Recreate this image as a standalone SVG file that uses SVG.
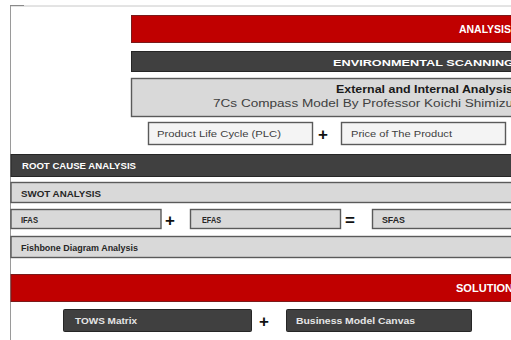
<svg xmlns="http://www.w3.org/2000/svg" width="511" height="340" viewBox="0 0 511 340">
  <style>
    .red { fill: #c00000; stroke: #7a1a1a; stroke-width: 1; }
    .dark { fill: #404040; stroke: #262626; stroke-width: 1; }
    .light { fill: #d9d9d9; stroke: #5a5a5a; stroke-width: 1.4; }
    .box { fill: #f4f4f4; stroke: #5a5a5a; stroke-width: 1.4; }
    .hd { font-family: "Liberation Sans", Arial, sans-serif; font-weight: bold; fill: #ffffff; }
    .lbl { font-family: "Liberation Sans", Arial, sans-serif; font-weight: bold; fill: #262626; font-size: 9px; }
    .reg { font-family: "Liberation Sans", Arial, sans-serif; fill: #404040; }
    .btn { font-family: "Liberation Sans", Arial, sans-serif; font-weight: bold; fill: #e6e6e6; font-size: 9px; }
    .op { font-family: "Liberation Sans", Arial, sans-serif; font-weight: bold; fill: #111111; font-size: 17px; }
  </style>

  <rect width="511" height="340" fill="#ffffff"/>

  <!-- page frame -->
  <g id="frame">
    <line x1="10" y1="6" x2="511" y2="6" stroke="#c8c8c8" stroke-width="1"/>
    <line x1="10" y1="5.5" x2="24" y2="5.5" stroke="#8a8a8a" stroke-width="1"/>
    <line x1="10.5" y1="6" x2="10.5" y2="340" stroke="#9a9a9a" stroke-width="1"/>
  </g>

  <g id="analysis">
    <rect class="red" x="131.5" y="15.5" width="385" height="27"/>
    <text class="hd" x="459" y="33" font-size="10.5" textLength="52" lengthAdjust="spacingAndGlyphs">ANALYSIS</text>
  </g>

  <g id="environmental-scanning">
    <rect class="dark" x="131.5" y="51.5" width="385" height="20"/>
    <text class="hd" x="333" y="65.5" font-size="9" textLength="181" lengthAdjust="spacingAndGlyphs">ENVIRONMENTAL SCANNING</text>
  </g>

  <g id="external-internal">
    <rect class="light" x="131.5" y="78.5" width="385" height="38"/>
    <text class="hd" x="336" y="93" font-size="11" style="fill:#1a1a1a" textLength="177" lengthAdjust="spacingAndGlyphs">External and Internal Analysis</text>
    <text class="reg" x="213" y="107" font-size="10" textLength="300" lengthAdjust="spacingAndGlyphs">7Cs Compass Model By Professor Koichi Shimizu</text>
  </g>

  <g id="plc">
    <rect class="box" x="148.5" y="122.5" width="164" height="22"/>
    <text class="reg" x="157" y="137" font-size="9.5" textLength="124" lengthAdjust="spacingAndGlyphs">Product Life Cycle (PLC)</text>
  </g>

  <g id="price">
    <rect class="box" x="341.5" y="122.5" width="164" height="22"/>
    <text class="reg" x="351" y="137" font-size="9.5" textLength="101" lengthAdjust="spacingAndGlyphs">Price of The Product</text>
  </g>

  <g id="root-cause">
    <rect class="dark" x="11" y="154.5" width="505" height="22"/>
    <text class="hd" x="22" y="169" font-size="9" textLength="114" lengthAdjust="spacingAndGlyphs">ROOT CAUSE ANALYSIS</text>
  </g>

  <g id="swot">
    <rect class="light" x="11" y="182.5" width="505" height="20"/>
    <text class="lbl" x="21" y="196.5" textLength="80" lengthAdjust="spacingAndGlyphs">SWOT ANALYSIS</text>
  </g>

  <g id="ifas">
    <rect class="light" x="11" y="209.5" width="150" height="19"/>
    <text class="lbl" x="21" y="223" textLength="17" lengthAdjust="spacingAndGlyphs">IFAS</text>
  </g>

  <g id="efas">
    <rect class="light" x="190.5" y="209.5" width="150" height="19"/>
    <text class="lbl" x="202" y="223" textLength="19" lengthAdjust="spacingAndGlyphs">EFAS</text>
  </g>

  <g id="sfas">
    <rect class="light" x="372.5" y="209.5" width="144" height="19"/>
    <text class="lbl" x="382" y="223" textLength="23" lengthAdjust="spacingAndGlyphs">SFAS</text>
  </g>

  <g id="fishbone">
    <rect class="light" x="11" y="236.5" width="505" height="21"/>
    <text class="lbl" x="21" y="251" textLength="117" lengthAdjust="spacingAndGlyphs">Fishbone Diagram Analysis</text>
  </g>

  <g id="solution">
    <rect class="red" x="11" y="274.5" width="505" height="27"/>
    <text class="hd" x="456" y="292" font-size="10.5" textLength="57" lengthAdjust="spacingAndGlyphs">SOLUTION</text>
  </g>

  <g id="tows">
    <rect class="dark" x="63.5" y="309.5" width="188" height="22" rx="1"/>
    <text class="btn" x="75" y="324" textLength="62" lengthAdjust="spacingAndGlyphs">TOWS Matrix</text>
  </g>

  <g id="bmc">
    <rect class="dark" x="286.5" y="309.5" width="185" height="22" rx="1"/>
    <text class="btn" x="296" y="324" textLength="119" lengthAdjust="spacingAndGlyphs">Business Model Canvas</text>
  </g>

  <!-- operators joining the boxes -->
  <g id="connectors">
    <text class="op" x="323" y="139.5" text-anchor="middle">+</text>
    <text class="op" x="170" y="225.5" text-anchor="middle">+</text>
    <text class="op" x="350" y="225.5" text-anchor="middle">=</text>
    <text class="op" x="264" y="326.5" text-anchor="middle">+</text>
  </g>
</svg>
